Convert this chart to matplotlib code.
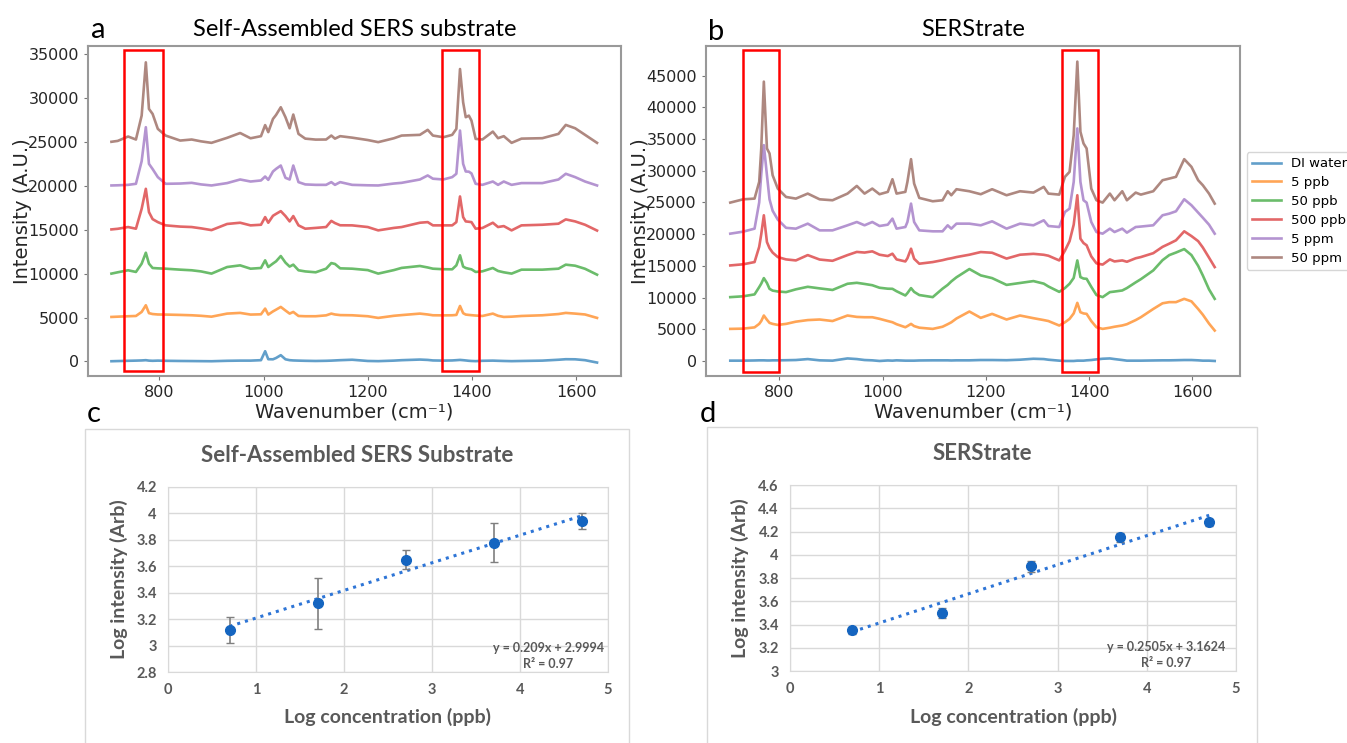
import matplotlib
matplotlib.use("Agg")
import matplotlib.pyplot as plt
from matplotlib.patches import Rectangle
import numpy as np


# ---- Raman spectra, panel a (self-assembled substrate), offsets included ----
WN_A = [708, 720, 740, 755, 766, 774, 780, 787, 797, 812,
        840, 862, 880, 900, 930, 955, 975, 995, 1003, 1009,
        1018, 1024, 1033, 1042, 1050, 1057, 1067, 1080, 1100, 1120,
        1130, 1137, 1147, 1170, 1200, 1220, 1250, 1265, 1300, 1315,
        1325, 1345, 1362, 1370, 1377, 1383, 1388, 1394, 1399, 1407,
        1420, 1440, 1450, 1461, 1476, 1495, 1535, 1566, 1580, 1598,
        1617, 1640]

A_DI = [30, 50, 80, 100, 120, 150, 100, 80, 100, 80,
        60, 50, 40, 30, 80, 100, 100, 150, 1170, 260,
        250, 400, 720, 250, 150, 120, 100, 80, 60, 80,
        100, 120, 150, 200, 60, 40, 100, 150, 220, 180,
        120, 100, 120, 150, 180, 150, 120, 80, 60, 40,
        80, 100, 80, 60, 40, 60, 100, 200, 260, 250,
        150, -120]
A_5PPB = [5070, 5100, 5150, 5180, 5640, 6400, 5500, 5400, 5350, 5340,
          5300, 5260, 5200, 5100, 5450, 5530, 5340, 5370, 6020, 5340,
          5700, 5900, 6210, 5800, 5450, 5640, 5180, 5150, 5150, 5250,
          5450, 5350, 5280, 5260, 5150, 4960, 5200, 5280, 5450, 5350,
          5260, 5250, 5260, 5300, 6320, 5500, 5340, 5300, 5270, 5230,
          5180, 5450, 5200, 5070, 5100, 5180, 5260, 5400, 5530, 5450,
          5350, 4960]
A_50PPB = [10000, 10150, 10380, 10190, 11130, 12380, 11130, 10640, 10600, 10560,
           10450, 10380, 10250, 10000, 10750, 10940, 10560, 10640, 11510, 10750,
           11150, 11400, 12000, 11250, 10800, 11020, 10380, 10250, 10150, 10560,
           11200, 11100, 10600, 10560, 10400, 10000, 10400, 10650, 10870, 10700,
           10560, 10500, 10490, 10940, 12080, 10800, 10640, 10550, 10490, 10190,
           10260, 10640, 10300, 10150, 10000, 10450, 10450, 10560, 11020, 10900,
           10550, 9880]
A_500PPB = [15030, 15100, 15300, 15110, 17380, 19650, 17000, 16200, 15860, 15490,
            15350, 15300, 15150, 14950, 15650, 15790, 15490, 15560, 16430, 15790,
            16580, 16800, 17110, 16550, 15940, 16550, 15490, 15110, 15200, 15300,
            16000, 15750, 15500, 15490, 15300, 14920, 15200, 15300, 15790, 15860,
            15490, 15490, 15490, 15860, 18780, 16430, 15940, 15900, 15860, 15110,
            15190, 15790, 15300, 15410, 14920, 15490, 15560, 15680, 16170, 15940,
            15560, 14900]
A_5PPM = [20030, 20050, 20100, 20220, 22800, 26660, 22490, 21900, 20980, 20220,
          20250, 20330, 20150, 20030, 20300, 20710, 20480, 20600, 21050, 20670,
          21620, 21920, 22300, 20900, 20710, 22300, 20410, 20150, 20100, 20100,
          20410, 20100, 20410, 20100, 20050, 20030, 20250, 20330, 20710, 21170,
          20800, 20710, 20980, 21360, 26280, 22490, 21620, 21600, 21400, 20220,
          20100, 20480, 20100, 20480, 20100, 20300, 20300, 20710, 21360, 20980,
          20480, 20030]
A_50PPM = [25000, 25100, 25600, 25260, 27980, 34040, 28740, 28170, 26470, 25710,
           25140, 25260, 25050, 24880, 25450, 26000, 25400, 25640, 26900, 26100,
           27600, 28060, 28930, 27800, 26540, 28100, 25900, 25360, 25250, 25260,
           25710, 25360, 25640, 25470, 25200, 24960, 25400, 25710, 25790, 26360,
           25710, 25520, 25790, 26470, 33280, 29500, 27800, 27980, 27410, 25330,
           25260, 26160, 25410, 25640, 24880, 25360, 25410, 25900, 26920, 26540,
           25790, 24880]

# ---- Raman spectra, panel b (SERStrate) ----
WN_B = [705, 730, 752, 761, 765, 770, 776, 781, 787, 797,
        813, 832, 855, 878, 903, 932, 950, 965, 980, 994,
        1010, 1019, 1027, 1044, 1048, 1055, 1061, 1071, 1097, 1116,
        1126, 1133, 1143, 1168, 1190, 1212, 1240, 1266, 1292, 1312,
        1321, 1342, 1353, 1362, 1370, 1377, 1383, 1389, 1395, 1404,
        1414, 1426, 1440, 1449, 1464, 1473, 1490, 1500, 1524, 1542,
        1555, 1568, 1584, 1598, 1611, 1620, 1632, 1643]

B_DI = [50, 50, 80, 100, 100, 100, 80, 80, 100, 100,
        120, 150, 300, 100, 50, 400, 300, 150, 100, 0,
        80, 50, 100, 50, 50, 50, 50, 80, 100, 100,
        100, 80, 100, 100, 150, 150, 120, 200, 350, 300,
        200, 50, 0, 0, 0, 50, 50, 50, 100, 150,
        250, 350, 400, 300, 150, 50, 50, 50, 80, 100,
        100, 120, 150, 150, 100, 50, 50, 0]
B_5PPB = [5060, 5100, 5300, 5850, 6300, 7170, 6500, 6010, 5850, 5690,
          5850, 6200, 6450, 6540, 6300, 7170, 6950, 6900, 6900, 6650,
          6300, 6110, 5800, 5320, 5500, 5850, 5500, 5250, 5060, 5400,
          5800, 6100, 6700, 7800, 6800, 7430, 6540, 7170, 6750, 6450,
          6300, 5590, 6100, 6640, 7500, 9170, 7690, 7500, 7430, 6300,
          5320, 5060, 5250, 5400, 5600, 5800, 6450, 6900, 8200, 9100,
          9280, 9280, 9800, 9400, 8200, 7300, 5900, 4800]
B_50PPB = [10070, 10200, 10500, 11650, 12200, 13070, 12300, 11380, 11100, 10960,
           10860, 11300, 11700, 11450, 11200, 12180, 12330, 12150, 11950, 11550,
           11400, 11380, 11000, 10330, 10700, 11490, 10900, 10400, 10070, 11400,
           12000, 12550, 13200, 14500, 13500, 13070, 12000, 12300, 12600, 12200,
           11750, 10900, 11500, 12180, 13100, 15860, 13230, 13000, 12960, 11700,
           10400, 10070, 10860, 10950, 11120, 11500, 12400, 12900, 14280, 15900,
           16700, 17100, 17650, 16700, 15000, 13490, 11300, 9800]
B_500PPB = [15070, 15250, 15600, 18000, 20000, 22980, 18760, 17800, 17100, 16390,
            16020, 15860, 16700, 16000, 15800, 16700, 17200, 17100, 17290, 16760,
            16550, 16920, 16020, 15700, 16200, 17710, 16120, 15340, 15600, 15900,
            16100, 16200, 16390, 16760, 17180, 17070, 16150, 16760, 16900, 16750,
            16600, 15860, 17400, 18900, 21500, 26140, 19290, 18600, 18250, 16500,
            15400, 15200, 16020, 15700, 15860, 15650, 16200, 16390, 17000, 18000,
            18500, 19030, 20450, 19700, 18900, 17900, 16300, 14810]
B_5PPM = [20080, 20400, 20870, 25000, 29500, 34040, 29300, 25500, 23700, 22300,
          21000, 20870, 21660, 20600, 20600, 21400, 21920, 21400, 21920, 21290,
          21500, 22450, 20870, 21130, 21920, 24820, 21920, 20600, 20450, 20450,
          21400, 20870, 21660, 21660, 21400, 22030, 20870, 21660, 21400, 22190,
          21290, 21130, 23500, 24030, 28250, 36680, 28250, 25350, 24980, 21920,
          20340, 20080, 20870, 20340, 20870, 20240, 21130, 21200, 21400, 22980,
          23240, 23610, 25510, 24560, 23400, 22600, 21500, 20080]
B_50PPM = [24980, 25500, 25610, 28250, 33520, 44060, 33520, 32730, 29300, 27190,
           25870, 25610, 26400, 25500, 25350, 26400, 27610, 26400, 27190, 26300,
           26670, 28670, 26400, 26670, 28250, 31830, 27980, 25720, 25190, 25350,
           26770, 26140, 27090, 26770, 26300, 27090, 26140, 26770, 26560, 27460,
           26400, 26240, 29040, 29830, 35620, 47220, 36150, 34310, 33520, 27190,
           25350, 24980, 26400, 25350, 26770, 25350, 26560, 26240, 26770, 28510,
           28770, 29040, 31830, 30620, 28510, 27720, 26400, 24820]

LABELS = ["DI water", "5 ppb", "50 ppb", "500 ppb", "5 ppm", "50 ppm"]

# highlighted bands (wavenumber ranges) and their vertical extent
BOXES_A = [(733, 806), (1343, 1413)]
BOXES_B = [(729, 800), (1348, 1417)]
BOX_Y_A = (-1100, 35500)
BOX_Y_B = (-1790, 49060)

# ---- calibration curves, panels c and d ----
LOG_CONC = [0.699, 1.699, 2.699, 3.699, 4.699]
C_LOG_INT = [3.12, 3.32, 3.65, 3.78, 3.94]
C_ERR = [0.10, 0.195, 0.07, 0.145, 0.06]
C_FIT = (0.209, 2.9994)
D_LOG_INT = [3.35, 3.50, 3.90, 4.15, 4.28]
D_ERR = [0.03, 0.04, 0.05, 0.04, 0.03]
D_FIT = (0.2505, 3.1624)

W, H = 1347, 743
COLORS = ["#1f77b4", "#ff7f0e", "#2ca02c", "#d62728", "#9467bd", "#8c564b"]
GREY = "#595959"

fig = plt.figure(figsize=(W / 100, H / 100), dpi=100)


def add_axes_px(left, top, right, bottom):
    return fig.add_axes([left / W, 1 - bottom / H, (right - left) / W, (bottom - top) / H])


def spectra_panel(ax, wn, series, boxes, box_y, ylim, yticks, xlim):
    for vals, color, label in zip(series, COLORS, LABELS):
        ax.plot(wn, vals, color=color, lw=1.9, alpha=0.7, label=label)
    for x0, x1 in boxes:
        ax.add_patch(Rectangle((x0, box_y[0]), x1 - x0, box_y[1] - box_y[0],
                               fill=False, ec="#ff0000", lw=1.8, zorder=5))
    ax.set_xlim(*xlim)
    ax.set_ylim(*ylim)
    ax.set_xticks([800, 1000, 1200, 1400, 1600])
    ax.set_yticks(yticks)
    ax.tick_params(labelsize=11.5, labelcolor="#262626", color="#777777", length=3)
    for sp in ax.spines.values():
        sp.set_color("#999999")
        sp.set_linewidth(1.5)
    ax.set_xlabel("Wavenumber (cm\u207b\u00b9)", fontsize=14, color="#262626", labelpad=2)
    ax.set_ylabel("Intensity (A.U.)", fontsize=14, color="#262626", labelpad=-3)


ax_a = add_axes_px(88, 46, 621, 376)
spectra_panel(ax_a, WN_A, [A_DI, A_5PPB, A_50PPB, A_500PPB, A_5PPM, A_50PPM],
              BOXES_A, BOX_Y_A, (-1650, 35900), range(0, 35001, 5000), (663, 1686))
ax_a.set_title("Self-Assembled SERS substrate", fontsize=17, family="Lato", pad=7)

ax_b = add_axes_px(706, 46, 1240, 376)
spectra_panel(ax_b, WN_B, [B_DI, B_5PPB, B_50PPB, B_500PPB, B_5PPM, B_50PPM],
              BOXES_B, BOX_Y_B, (-2370, 49680), range(0, 45001, 5000), (658, 1692))
ax_b.set_title("SERStrate", fontsize=17, family="Lato", pad=7)
ax_b.legend(loc="center left", bbox_to_anchor=(1.0, 0.5), fontsize=9.5,
            labelspacing=0.45, handlelength=2.2, edgecolor="#cccccc")


def excel_panel(ax, y, err, fit, ylim, ystep, eq, eq_x):
    ax.errorbar(LOG_CONC, y, yerr=err, fmt="o", color="#1565c0", ms=7,
                ecolor="#7f7f7f", elinewidth=1.2, capsize=3, zorder=4)
    xs = np.array([LOG_CONC[0], LOG_CONC[-1]])
    ax.plot(xs, np.polyval(fit, xs), ":", color="#2e75d6", lw=2.2, zorder=3)
    ax.set_xlim(0, 5)
    ax.set_ylim(*ylim)
    ax.set_xticks(range(0, 6))
    yt = np.round(np.arange(ylim[0], ylim[1] + 1e-9, ystep), 1)
    ax.set_yticks(yt)
    ax.set_yticklabels([f"{v:g}" for v in yt])
    ax.grid(True, color="#d9d9d9", lw=1)
    ax.set_axisbelow(True)
    for sp in ax.spines.values():
        sp.set_color("#d9d9d9")
    ax.tick_params(length=0, labelsize=10.5, labelcolor=GREY, pad=8)
    for lab in ax.get_xticklabels() + ax.get_yticklabels():
        lab.set_fontweight("bold")
        lab.set_family("Lato")
    ax.set_xlabel("Log concentration (ppb)", fontsize=14, fontweight="bold",
                  family="Lato", color=GREY, va="center")
    ax.set_ylabel("Log intensity (Arb)", fontsize=14, fontweight="bold",
                  family="Lato", color=GREY, va="center")
    ax.text(eq_x, 0.13, eq[0], transform=ax.transAxes, ha="center", va="center",
            fontsize=9, fontweight="bold", family="Lato", color=GREY)
    ax.text(eq_x, 0.043, eq[1], transform=ax.transAxes, ha="center", va="center",
            fontsize=9, fontweight="bold", family="Lato", color=GREY)


ax_c = add_axes_px(168, 487, 608, 672)
excel_panel(ax_c, C_LOG_INT, C_ERR, C_FIT, (2.8, 4.2), 0.2,
            ("y = 0.209x + 2.9994", "R\u00b2 = 0.97"), 0.864)
ax_c.xaxis.set_label_coords(0.5, -0.244)
ax_c.yaxis.set_label_coords(-0.111, 0.5)

ax_d = add_axes_px(790, 485, 1236, 671)
excel_panel(ax_d, D_LOG_INT, D_ERR, D_FIT, (3.0, 4.6), 0.2,
            ("y = 0.2505x + 3.1624", "R\u00b2 = 0.97"), 0.843)
ax_d.xaxis.set_label_coords(0.5, -0.247)
ax_d.yaxis.set_label_coords(-0.112, 0.5)

# chart area frames and titles of the two Excel charts
for x0, x1, top in [(85, 629, 429), (707, 1257, 427)]:
    fig.add_artist(Rectangle((x0 / W, -0.01), (x1 - x0) / W, 1 - top / H + 0.01,
                             transform=fig.transFigure, fill=False, ec="#d9d9d9", lw=1))
fig.text(357 / W, 1 - 455 / H, "Self-Assembled SERS Substrate", ha="center", va="center",
         fontsize=16, fontweight="bold", family="Lato", color=GREY)
fig.text(982 / W, 1 - 453 / H, "SERStrate", ha="center", va="center",
         fontsize=16, fontweight="bold", family="Lato", color=GREY)

# panel letters
for letter, x, y in [("a", 98, 30), ("b", 716, 32), ("c", 94, 414), ("d", 708, 414)]:
    fig.text(x / W, 1 - y / H, letter, ha="center", va="center", fontsize=21, family="Lato")

fig.savefig("out.png", dpi=100)
